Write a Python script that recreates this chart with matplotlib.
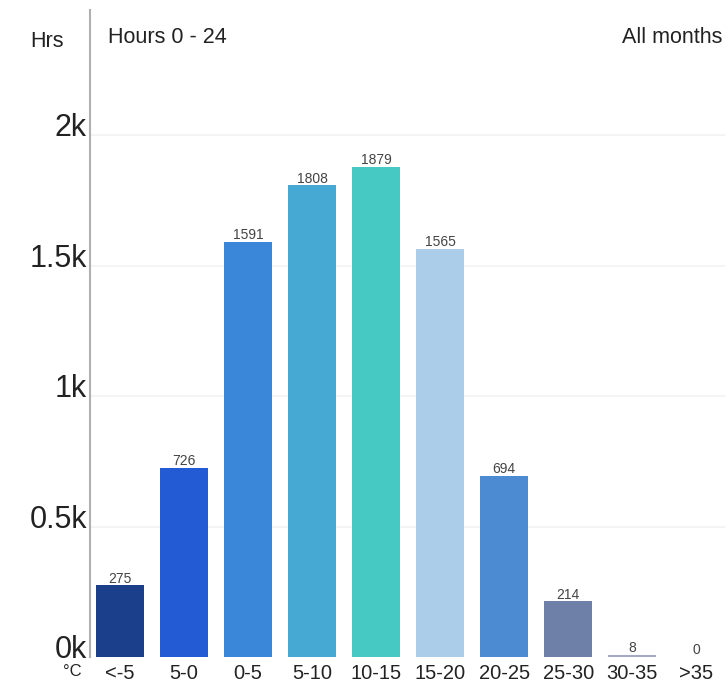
import matplotlib
matplotlib.use("Agg")
import matplotlib.pyplot as plt

plt.rcParams['font.family'] = ['Liberation Sans', 'DejaVu Sans']

categories = ["<-5", "5-0", "0-5", "5-10", "10-15", "15-20", "20-25", "25-30", "30-35", ">35"]
hours = [275, 726, 1591, 1808, 1879, 1565, 694, 214, 8, 0]
bar_colors = ["#1b3f8a", "#225bd4", "#3a86d9", "#46a9d3", "#46c9c3",
              "#abcdea", "#4c8bd1", "#6f80a8", "#a4a9c9", "#d9dbe8"]
y_ticks = [0, 500, 1000, 1500, 2000]
y_tick_labels = ["0k", "0.5k", "1k", "1.5k", "2k"]

fig = plt.figure(figsize=(7.25, 6.85), dpi=100)
ax = fig.add_axes([90 / 725, 28 / 685, 635 / 725, 647 / 685])

x = list(range(len(categories)))
ax.bar(x, hours, width=0.75, color=bar_colors, zorder=3)

for xi, v in zip(x, hours):
    ax.text(xi, v + 10, str(v), ha="center", va="baseline", fontsize=10,
            color="#444444", zorder=4)

ax.set_xlim(-0.47, 9.45)
ax.set_ylim(0, 2479)

# faint horizontal guides
for t in y_ticks[1:]:
    ax.axhline(t, color="#f2f2f2", lw=1.2, zorder=1)

ax.set_yticks([])
ax.set_xticks([])
for t, lab in zip(y_ticks, y_tick_labels):
    ax.text(-0.52, t - 4, lab, ha="right", va="baseline", fontsize=22,
            color="#222222", clip_on=False)

for xi, lab in zip(x, categories):
    ax.text(xi, -85, lab, ha="center", va="baseline", fontsize=14.5,
            color="#222222", clip_on=False)
ax.text(-0.75, -72, "°C", ha="center", va="baseline", fontsize=12,
        color="#222222", clip_on=False)

for side in ["top", "right", "bottom"]:
    ax.spines[side].set_visible(False)
ax.spines["left"].set_color("#b0b0b0")
ax.spines["left"].set_linewidth(1.5)

fig.text(30 / 725, 1 - 47 / 685, "Hrs", ha="left", va="baseline", fontsize=15.5, color="#222222")
fig.text(108 / 725, 1 - 43 / 685, "Hours 0 - 24", ha="left", va="baseline", fontsize=15.5, color="#222222")
fig.text(722 / 725, 1 - 43 / 685, "All months", ha="right", va="baseline", fontsize=15.5, color="#222222")

fig.savefig("out.png", dpi=100, facecolor="white")
